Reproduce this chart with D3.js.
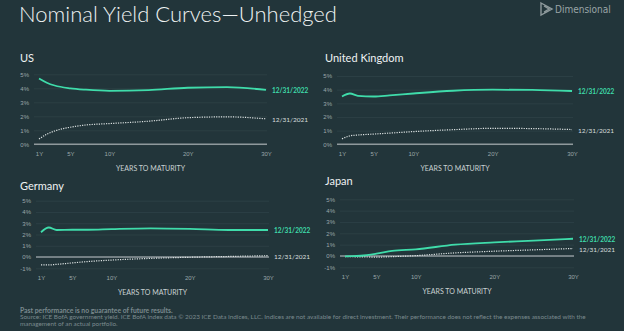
<!DOCTYPE html>
<meta charset="utf-8">
<style>
  body { margin: 0; background: #22353a; }
  svg { display: block; font-family: Lato, "Open Sans", sans-serif; }
</style>
<body>
<svg width="624" height="331"></svg>

<script src="https://cdn.jsdelivr.net/npm/d3@7"></script>
<script>

// Maturities (years) shared by every curve
var maturities = [1, 2, 3, 5, 7, 10, 15, 20, 25, 30];
var xTicks = [1, 5, 10, 20, 30];
var yTicksTop = [0, 1, 2, 3, 4, 5];
var yTicksBottom = [-1, 0, 1, 2, 3, 4, 5];

// Yields in percent
var us2022 = [4.70, 4.40, 4.20, 4.00, 3.90, 3.82, 3.87, 4.04, 4.08, 3.88];
var us2021 = [0.38, 0.72, 0.95, 1.22, 1.38, 1.48, 1.65, 1.90, 1.96, 1.82];
var uk2022 = [3.50, 3.72, 3.55, 3.50, 3.58, 3.72, 3.92, 4.00, 3.98, 3.90];
var uk2021 = [0.40, 0.62, 0.68, 0.75, 0.82, 0.93, 1.07, 1.17, 1.15, 1.08];
var de2022 = [2.20, 2.62, 2.40, 2.42, 2.42, 2.48, 2.55, 2.50, 2.40, 2.40];
var de2021 = [-0.70, -0.70, -0.65, -0.52, -0.40, -0.27, -0.12, -0.02, 0.05, 0.12];
var jp2022 = [-0.03, -0.02, 0.02, 0.20, 0.44, 0.58, 1.00, 1.20, 1.35, 1.52];
var jp2021 = [-0.05, -0.07, -0.08, -0.10, -0.06, 0.03, 0.27, 0.42, 0.54, 0.66];

var label2022 = "12/31/2022",
    label2021 = "12/31/2021";

var teal = "#3fdcaa",
    dotted = "#dde3e3";

var svg = d3.select("svg");

// page title + logo
svg.append("text")
    .attr("x", 19).attr("y", 22)
    .attr("fill", "#eef2f2")
    .style("font-size", "22px")
    .style("font-weight", 300)
    .text("Nominal Yield Curves\u2014Unhedged");

var logo = svg.append("g").attr("transform", "translate(540,2)");
logo.append("path")
    .attr("d", "M1,1 L12,7 L1,13 Z M4,4 L9,7 L4,10")
    .attr("fill", "none")
    .attr("stroke", "#8e9a9c")
    .attr("stroke-width", 1.4);
logo.append("text")
    .attr("x", 15).attr("y", 11)
    .attr("fill", "#9aa5a7")
    .style("font-family", "'DejaVu Sans Condensed', 'DejaVu Sans', sans-serif")
    .style("font-stretch", "condensed")
    .style("font-size", "10px")
    .text("Dimensional");

// one panel per market
var panels = [
  {name: "US", y22: us2022, y21: us2021, yTicks: yTicksTop,
   x0: 39, x1: 266, top: 74.3, bottom: 144.3, titleX: 20, titleY: 62},
  {name: "United Kingdom", y22: uk2022, y21: uk2021, yTicks: yTicksTop,
   x0: 342, x1: 572, top: 76, bottom: 144.3, titleX: 325, titleY: 62},
  {name: "Germany", y22: de2022, y21: de2021, yTicks: yTicksBottom,
   x0: 41, x1: 268, top: 200.7, bottom: 268.3, titleX: 20, titleY: 190},
  {name: "Japan", y22: jp2022, y21: jp2021, yTicks: yTicksBottom,
   x0: 345, x1: 573, top: 199.3, bottom: 267.3, titleX: 325, titleY: 185}
];

panels.forEach(function(p) {
  var g = svg.append("g");

  var x = d3.scaleLinear().domain([1, 30]).range([p.x0, p.x1]);
  var y = d3.scaleLinear().domain(d3.extent(p.yTicks)).range([p.bottom, p.top]);

  var gridLeft = p.x0 - 5,
      gridRight = p.x1 + 1;

  g.append("text")
      .attr("x", p.titleX).attr("y", p.titleY)
      .attr("fill", "#eef2f2")
      .style("font-size", "11px")
      .text(p.name);

  // y axis with gridlines
  var yAxis = d3.axisLeft(y)
      .tickValues(p.yTicks)
      .tickSize(-(gridRight - gridLeft))
      .tickPadding(5)
      .tickFormat(function(d) { return d + "%"; });

  var ya = g.append("g")
      .attr("transform", "translate(" + gridLeft + ",0)")
      .call(yAxis);
  ya.select(".domain").remove();
  ya.selectAll("line")
      .attr("stroke", "#33474c")
      .attr("stroke-width", 0.6);
  ya.selectAll("text")
      .attr("fill", "#9ba7a9")
      .style("font-size", "6px");

  // zero line
  g.append("line")
      .attr("x1", gridLeft).attr("x2", gridRight)
      .attr("y1", y(0)).attr("y2", y(0))
      .attr("stroke", "#8f999c")
      .attr("stroke-width", 1.6);

  // x axis labels
  var xa = g.append("g")
      .attr("transform", "translate(0," + p.bottom + ")")
      .call(d3.axisBottom(x)
          .tickValues(xTicks)
          .tickSize(0)
          .tickPadding(7)
          .tickFormat(function(d) { return d + "Y"; }));
  xa.select(".domain").remove();
  xa.selectAll("text")
      .attr("fill", "#9ba7a9")
      .style("font-size", "6px");

  g.append("text")
      .attr("x", (gridLeft + gridRight) / 2)
      .attr("y", p.bottom + 26.5)
      .attr("text-anchor", "middle")
      .attr("fill", "#c9d1d2")
      .style("font-size", "7px")
      .text("YEARS TO MATURITY");

  var line = d3.line()
      .curve(d3.curveMonotoneX)
      .x(function(d, i) { return x(maturities[i]); })
      .y(function(d) { return y(d); });

  g.append("path")
      .datum(p.y21)
      .attr("d", line)
      .attr("fill", "none")
      .attr("stroke", dotted)
      .attr("stroke-width", 1.2)
      .attr("stroke-dasharray", "1.2,1.2");

  g.append("path")
      .datum(p.y22)
      .attr("d", line)
      .attr("fill", "none")
      .attr("stroke", teal)
      .attr("stroke-width", 1.8);

  // end-of-curve labels
  g.append("text")
      .attr("x", p.x1 + 6)
      .attr("y", y(p.y22[p.y22.length - 1]) + 1)
      .attr("dy", "0.35em")
      .attr("fill", teal)
      .style("font-size", "6.5px")
      .style("font-weight", 700)
      .text(label2022);

  g.append("text")
      .attr("x", p.x1 + 6)
      .attr("y", y(p.y21[p.y21.length - 1]) + 1)
      .attr("dy", "0.35em")
      .attr("fill", "#d8dede")
      .style("font-size", "6.5px")
      .text(label2021);
});

// disclosures
var foot = svg.append("g").attr("fill", "#7b8a8e").style("font-size", "6.4px");
foot.append("text").attr("x", 20).attr("y", 312.8)
    .style("font-weight", 700)
    .style("font-size", "6.8px")
    .text("Past performance is no guarantee of future results.");
foot.append("text").attr("x", 20).attr("y", 319.4)
    .text("Source: ICE BofA government yield. ICE BofA index data \u00a9 2023 ICE Data Indices, LLC. Indices are not available for direct investment. Their performance does not reflect the expenses associated with the");
foot.append("text").attr("x", 20).attr("y", 326.1)
    .text("management of an actual portfolio.");

</script>
</body>
